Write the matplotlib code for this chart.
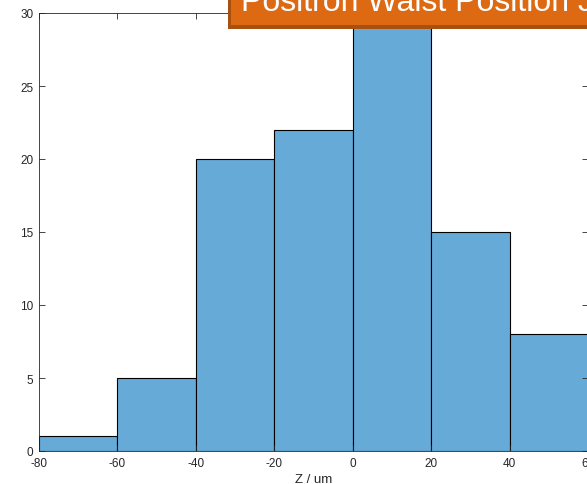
import numpy as np
import matplotlib
matplotlib.use("Agg")
import matplotlib.pyplot as plt
from matplotlib.patches import Rectangle

# waist position histogram (counts per 20 um bin)
bin_edges = [-80, -60, -40, -20, 0, 20, 40, 60]
counts = [1, 5, 20, 22, 33, 15, 8]
x_ticks = [-80, -60, -40, -20, 0, 20, 40, 60]
y_ticks = [0, 5, 10, 15, 20, 25, 30]
title = "Positron Waist Position Jitter"

plt.rcParams["font.family"] = ["Liberation Sans", "DejaVu Sans"]
plt.rcParams["axes.unicode_minus"] = False

W, H = 587, 485
fig = plt.figure(figsize=(W / 100, H / 100), dpi=100)
ax = fig.add_axes([39 / W, (H - 452) / H, (588 - 39) / W, (452 - 14) / H])

edges = np.array(bin_edges)
ax.bar(edges[:-1], counts, width=np.diff(edges), align="edge",
       color="#66aad7", edgecolor="black", linewidth=0.8)

ax.set_xlim(-80, 60)
ax.set_ylim(0, 30)
ax.set_xticks(x_ticks)
ax.set_yticks(y_ticks)
ax.tick_params(direction="in", top=True, right=True, length=4, width=0.6,
               labelsize=8.5, colors="#262626", pad=4)
for s in ax.spines.values():
    s.set_color("#262626")
    s.set_linewidth(0.6)
ax.set_xlabel("Z / um", fontsize=9.5, color="#262626", labelpad=3)

# title banner with drop shadow across the top
fig.patches.append(Rectangle((228 / W, (H - 30) / H), 1, 1, transform=fig.transFigure,
                             facecolor="#a8500f", edgecolor="none", zorder=5))
fig.patches.append(Rectangle((231 / W, (H - 26) / H), 1, 1, transform=fig.transFigure,
                             facecolor="#dd6a12", edgecolor="none", zorder=6))
fig.text(241 / W, (H - 11) / H, title, fontsize=23, color="white",
         ha="left", va="baseline", zorder=7)

fig.savefig("out.png", dpi=100)
